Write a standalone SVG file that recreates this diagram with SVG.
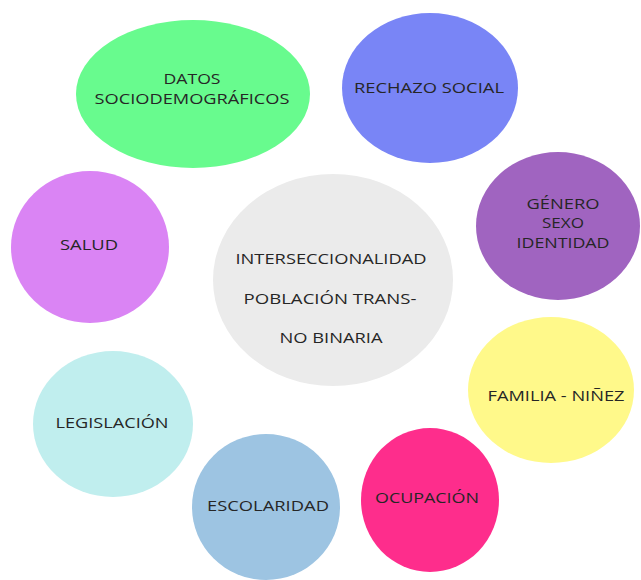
<svg xmlns="http://www.w3.org/2000/svg" width="641" height="580" viewBox="0 0 641 580">
<style>
text{font-family:"Open Sans","Liberation Sans",sans-serif;font-size:15px;font-weight:500;fill:#262626;text-anchor:middle;dominant-baseline:central}
</style>
<rect width="641" height="580" fill="#ffffff"/>
<g id="connectors"></g>
<g id="datos"><ellipse cx="193" cy="94" rx="117" ry="74" fill="#68FB8E"/><text x="192" y="78" textLength="57" lengthAdjust="spacingAndGlyphs">DATOS</text><text x="192" y="98" textLength="195" lengthAdjust="spacingAndGlyphs">SOCIODEMOGRÁFICOS</text></g>
<g id="rechazo"><ellipse cx="430" cy="88" rx="88" ry="75" fill="#7985F6"/><text x="429" y="87" textLength="150" lengthAdjust="spacingAndGlyphs">RECHAZO SOCIAL</text></g>
<g id="genero"><ellipse cx="558" cy="226" rx="82" ry="74" fill="#A064C0"/><text x="563" y="203" textLength="73" lengthAdjust="spacingAndGlyphs">GÉNERO</text><text x="563" y="222" textLength="42" lengthAdjust="spacingAndGlyphs">SEXO</text><text x="563" y="242" textLength="93" lengthAdjust="spacingAndGlyphs">IDENTIDAD</text></g>
<g id="salud"><ellipse cx="90" cy="247" rx="79" ry="76" fill="#DA84F4"/><text x="89" y="244" textLength="58" lengthAdjust="spacingAndGlyphs">SALUD</text></g>
<g id="central"><ellipse cx="333" cy="280" rx="120" ry="106" fill="#EBEBEB"/><text x="331" y="258" textLength="191" lengthAdjust="spacingAndGlyphs">INTERSECCIONALIDAD</text><text x="330" y="298" textLength="173" lengthAdjust="spacingAndGlyphs">POBLACIÓN TRANS-</text><text x="331" y="337" textLength="103" lengthAdjust="spacingAndGlyphs">NO BINARIA</text></g>
<g id="familia"><ellipse cx="551" cy="390" rx="83" ry="73" fill="#FFF98A"/><text x="556" y="395" textLength="137" lengthAdjust="spacingAndGlyphs">FAMILIA - NIÑEZ</text></g>
<g id="legislacion"><ellipse cx="113" cy="424" rx="80" ry="73" fill="#C0EEEE"/><text x="112" y="422" textLength="113" lengthAdjust="spacingAndGlyphs">LEGISLACIÓN</text></g>
<g id="escolaridad"><ellipse cx="266" cy="507" rx="74" ry="73" fill="#9DC4E2"/><text x="268" y="505" textLength="122" lengthAdjust="spacingAndGlyphs">ESCOLARIDAD</text></g>
<g id="ocupacion"><ellipse cx="430" cy="500" rx="69" ry="72" fill="#FE2D8C"/><text x="427" y="497" textLength="104" lengthAdjust="spacingAndGlyphs">OCUPACIÓN</text></g>
</svg>
